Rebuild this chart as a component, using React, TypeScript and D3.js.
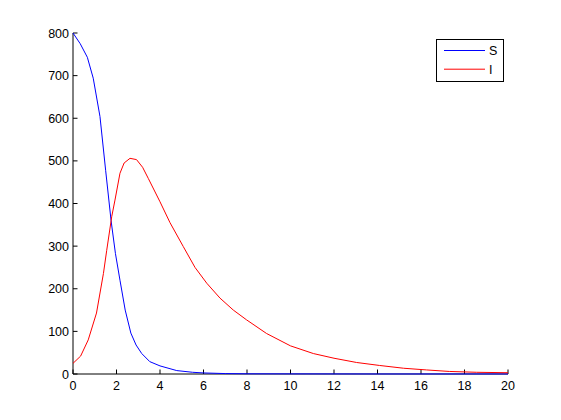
import React from "react";
import * as d3 from "d3";

const sTimes = [0, 0.33, 0.66, 0.93, 1.24, 1.5, 1.75, 1.95, 2.16, 2.4, 2.66, 2.9, 3.16, 3.53, 4, 4.77, 5.5, 6, 7, 8, 10, 12, 14, 16, 18, 20];
const sValues = [800, 775, 743, 694, 604, 478, 360, 283, 220, 150, 96, 68, 48, 29, 19, 8, 4, 2.5, 1, 0.5, 0.3, 0.2, 0.1, 0.1, 0.1, 0.1];
const iTimes = [0, 0.35, 0.7, 1.08, 1.4, 1.55, 1.78, 1.93, 2.16, 2.35, 2.62, 2.92, 3.2, 3.46, 4, 4.46, 5.07, 5.61, 6.15, 6.76, 7.37, 7.98, 8.9, 10, 11.05, 12, 13.04, 14.1, 15.2, 16.26, 17.3, 18.56, 20];
const iValues = [25, 42, 80, 143, 236, 290, 369, 408, 471, 495, 506, 503, 485, 459, 404, 355, 299, 250, 213, 178, 150, 127, 95, 66, 48, 37, 27, 20, 13.5, 9.5, 6, 4, 3];
const xTicks = [0, 2, 4, 6, 8, 10, 12, 14, 16, 18, 20];
const yTicks = [0, 100, 200, 300, 400, 500, 600, 700, 800];
const seriesNames = ["S", "I"];
const seriesColors = ["#0000ff", "#ff0000"];

export default function App() {
  const W = 561, H = 420;
  const x = d3.scaleLinear().domain([0, 20]).range([73, 508]);
  const y = d3.scaleLinear().domain([0, 800]).range([374, 33]);
  const line = d3.line<[number, number]>().x(d => x(d[0])).y(d => y(d[1]));
  const sData = sTimes.map((t, i) => [t, sValues[i]] as [number, number]);
  const iData = iTimes.map((t, i) => [t, iValues[i]] as [number, number]);
  const font = "'Liberation Sans', Arial, sans-serif";
  return (
    <svg width={W} height={H} style={{ position: "absolute", left: 0, top: 0, background: "#fff" }}>
      <rect x={0} y={0} width={W} height={H} fill="#fff" />
      <line x1={x(0)} x2={x(20)} y1={y(0)} y2={y(0)} stroke="#000" strokeWidth={1} />
      <line x1={x(0)} x2={x(0)} y1={y(0)} y2={y(800)} stroke="#000" strokeWidth={1} />
      {xTicks.map(t => (
        <g key={"x" + t}>
          <line x1={x(t)} x2={x(t)} y1={y(0)} y2={y(0) - 4.5} stroke="#000" />
          <text x={x(t)} y={390} textAnchor="middle" fontFamily={font} fontSize={12.5} fill="#000">{t}</text>
        </g>
      ))}
      {yTicks.map(t => (
        <g key={"y" + t}>
          <line x1={x(0)} x2={x(0) + 4.5} y1={y(t)} y2={y(t)} stroke="#000" />
          <text x={69} y={y(t) + 4.5} textAnchor="end" fontFamily={font} fontSize={12.5} fill="#000">{t}</text>
        </g>
      ))}
      <path d={line(sData) || ""} fill="none" stroke={seriesColors[0]} strokeWidth={1} />
      <path d={line(iData) || ""} fill="none" stroke={seriesColors[1]} strokeWidth={1} />
      <rect x={436.5} y={39.5} width={67} height={42} fill="#fff" stroke="#000" strokeWidth={1} />
      {seriesNames.map((n, i) => (
        <g key={n}>
          <line x1={444} x2={485} y1={50.5 + i * 18.7} y2={50.5 + i * 18.7} stroke={seriesColors[i]} strokeWidth={1} />
          <text x={489} y={55 + i * 18.7} fontFamily={font} fontSize={12.5} fill="#000">{n}</text>
        </g>
      ))}
    </svg>
  );
}
